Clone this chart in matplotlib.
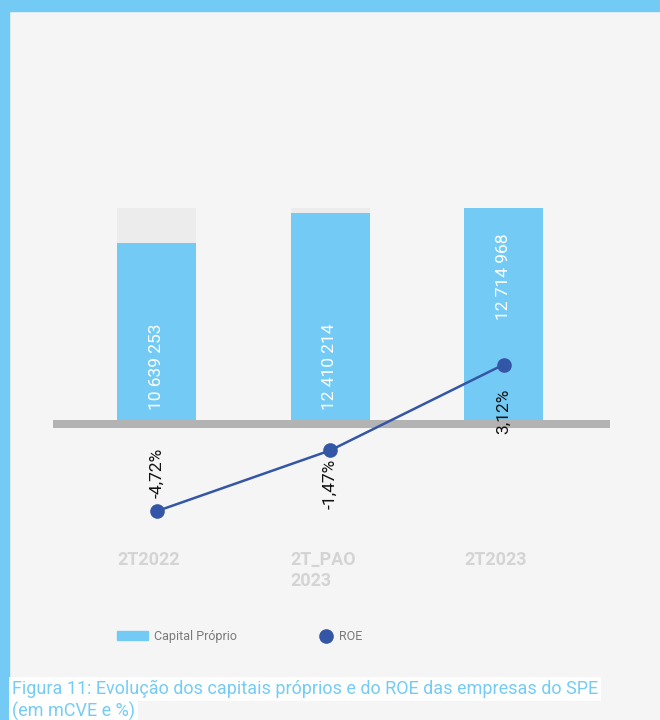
import numpy as np
import matplotlib.pyplot as plt
from matplotlib.patches import Patch, Rectangle
from matplotlib.lines import Line2D

plt.rcParams['font.family'] = ['Roboto', 'DejaVu Sans']

# data
periods = ['2T2022', '2T_PAO\n2023', '2T2023']
capital = [10639253, 12410214, 12714968]
capital_labels = ['10 639 253', '12 410 214', '12 714 968']
roe = [-4.72, -1.47, 3.12]
roe_labels = ['-4,72%', '-1,47%', '3,12%']

# styling
BLUE = '#73cbf5'
TRACK = '#ececec'
NAVY = '#3456a6'
BASE = '#b3b3b3'
BG = '#f5f5f5'
bar_label_pad = [10, 10, 100]      # px above the baseline
roe_label_pad = [13, -8, -24]      # px from the marker

W, H = 660, 720
fig = plt.figure(figsize=(W / 100, H / 100), dpi=100, facecolor=BG)


def px_axes(left, top, right, bottom):
    return fig.add_axes([left / W, 1 - bottom / H, (right - left) / W, (bottom - top) / H])


# light blue frame on top and left
fig.patches.append(Rectangle((0, 1 - 11 / H), 1, 11 / H, transform=fig.transFigure,
                             color=BLUE, zorder=0))
fig.patches.append(Rectangle((0, 0), 9 / W, 1, transform=fig.transFigure,
                             color=BLUE, zorder=0))

top_px, bot_px, zero_px, full_px = 150, 530, 420, 208
ax = px_axes(53, top_px, 610, bot_px)
ax.set_facecolor('none')

x = np.arange(len(periods))
step = 173.5
bw = 79 / step
ax.set_xlim(-103.5 / step, 2 + 106.5 / step)

cmax = max(capital)
scale = (zero_px - full_px) / cmax
ax.set_ylim(-(bot_px - zero_px) / scale, (zero_px - top_px) / scale)

ax.bar(x, [cmax] * len(x), width=bw, color=TRACK, zorder=1)
ax.bar(x, capital, width=bw, color=BLUE, zorder=2)
ax.axhspan(-8 / scale, 0, color=BASE, zorder=3, lw=0)

for xi, lbl, pad in zip(x, capital_labels, bar_label_pad):
    ax.annotate(lbl, (xi, 0), xytext=(0, pad * 0.72), textcoords='offset points',
                rotation=90, ha='center', va='bottom', color='white',
                fontsize=12.5, zorder=4)

ax.set_xticks(x - bw / 2, periods, ha='left')
ax.tick_params(axis='x', length=0, pad=15, labelsize=13, labelcolor='#d4d4d4')
for t in ax.get_xticklabels():
    t.set_fontweight('bold')
ax.set_yticks([])
for s in ax.spines.values():
    s.set_visible(False)

# ROE on its own scale, zero on the baseline
ax2 = ax.twinx()
roe_zero, roe_scale = 423, 18.7
ax2.set_ylim(-(bot_px - roe_zero) / roe_scale, (roe_zero - top_px) / roe_scale)
ax2.axis('off')
ax2.plot(x, roe, color=NAVY, lw=1.8, marker='o', markersize=9.5, zorder=5)

for xi, v, lbl, pad in zip(x, roe, roe_labels, roe_label_pad):
    ax2.annotate(lbl, (xi, v), xytext=(0, pad * 0.72), textcoords='offset points',
                 rotation=90, ha='center', va='bottom' if pad > 0 else 'top',
                 color='#111111', fontsize=12.5, zorder=6)

# legend
leg_kw = dict(loc='center left', frameon=False, fontsize=9, borderpad=0,
              borderaxespad=0, handletextpad=0.5, labelcolor='#7a7a7a')
fig.legend(handles=[Patch(color=BLUE, label='Capital Próprio')],
           bbox_to_anchor=(117 / W, 1 - 636.5 / H), handlelength=2.5,
           handleheight=0.7, **leg_kw)
fig.legend(handles=[Line2D([], [], marker='o', color=NAVY, ls='none',
                           markersize=9.5, label='ROE')],
           bbox_to_anchor=(320 / W, 1 - 636.5 / H), handlelength=1.0, **leg_kw)

# caption
cap_kw = dict(color='#74ccf4', fontsize=13, va='center',
              bbox=dict(facecolor='white', edgecolor='none', pad=2))
fig.text(12 / W, 1 - 689 / H,
         'Figura 11: Evolução dos capitais próprios e do ROE das empresas do SPE', **cap_kw)
fig.text(12 / W, 1 - 711 / H, '(em mCVE e %)', **cap_kw)

fig.savefig('out.png', dpi=100, facecolor=BG)
